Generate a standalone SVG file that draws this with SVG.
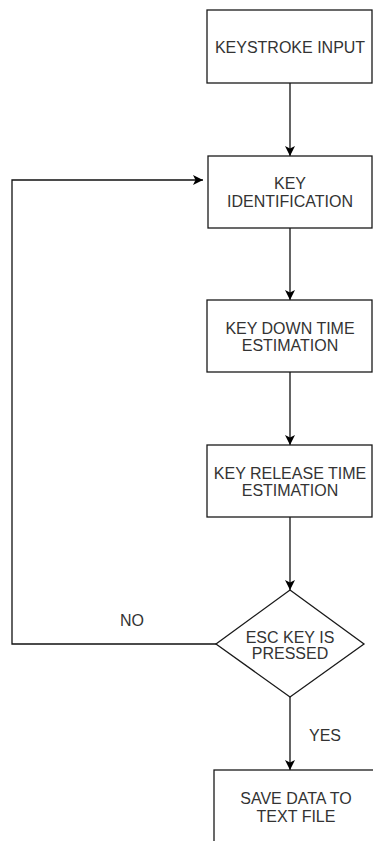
<svg xmlns="http://www.w3.org/2000/svg" width="373" height="841" viewBox="0 0 373 841">
<style>
.n{fill:#fff;stroke:#1a1a1a;stroke-width:1.3}
.t{font-family:"Liberation Sans",Arial,sans-serif;font-size:16px;fill:#333;text-anchor:middle}
.c{fill:none;stroke:#111;stroke-width:1.3}
</style>
<defs>
<marker id="a" viewBox="0 0 10 10" refX="10" refY="5" markerWidth="10" markerHeight="10" markerUnits="userSpaceOnUse" orient="auto">
<path d="M0,0 L10,5 L0,10 L2.5,5 Z" fill="#000"/>
</marker>
</defs>
<rect width="373" height="841" fill="#fff"/>
<g id="connectors">
<line class="c" x1="290" y1="83" x2="290" y2="156" marker-end="url(#a)"/>
<line class="c" x1="290" y1="228" x2="290" y2="300" marker-end="url(#a)"/>
<line class="c" x1="290" y1="372" x2="290" y2="445" marker-end="url(#a)"/>
<line class="c" x1="290" y1="517" x2="290" y2="590" marker-end="url(#a)"/>
<line class="c" x1="290" y1="697" x2="290" y2="770" marker-end="url(#a)"/>
<polyline class="c" points="216,644 12,644 12,180 203,180" marker-end="url(#a)"/>
<text class="t" x="132" y="626">NO</text>
<text class="t" x="325" y="741">YES</text>
</g>
<g id="keystroke-input">
<rect class="n" x="207" y="10" width="165" height="73"/>
<text class="t" x="290" y="53">KEYSTROKE INPUT</text>
</g>
<g id="key-identification">
<rect class="n" x="208" y="156" width="164" height="72"/>
<text class="t" x="290" y="189">KEY</text>
<text class="t" x="290" y="207">IDENTIFICATION</text>
</g>
<g id="key-down">
<rect class="n" x="207" y="300" width="165" height="72"/>
<text class="t" x="290" y="334">KEY DOWN TIME</text>
<text class="t" x="290" y="351">ESTIMATION</text>
</g>
<g id="key-release">
<rect class="n" x="207" y="445" width="165" height="72"/>
<text class="t" x="290" y="479">KEY RELEASE TIME</text>
<text class="t" x="290" y="496">ESTIMATION</text>
</g>
<g id="esc-pressed">
<polygon class="n" points="290,590 364,644 290,697 216,644"/>
<text class="t" x="290" y="643">ESC KEY IS</text>
<text class="t" x="290" y="659">PRESSED</text>
</g>
<g id="save-data">
<rect class="n" x="214" y="770" width="166" height="80"/>
<text class="t" x="296" y="804">SAVE DATA TO</text>
<text class="t" x="296" y="822">TEXT FILE</text>
</g>
</svg>
